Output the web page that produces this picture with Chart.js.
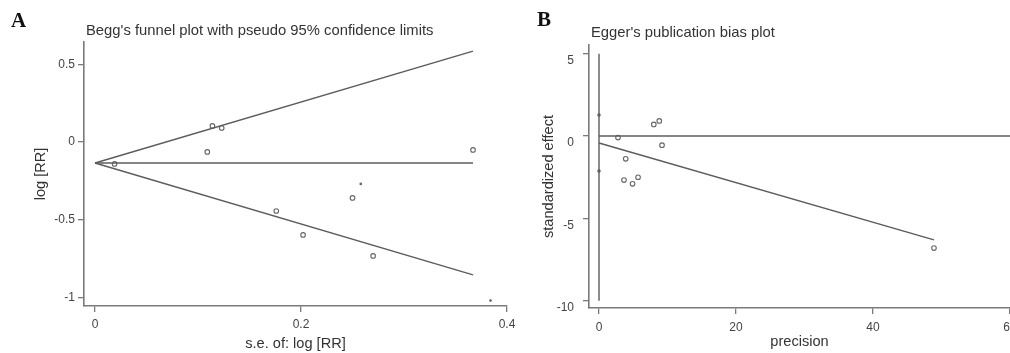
<!DOCTYPE html>
<html lang="en">
<head>
    <meta charset="UTF-8">
    <script src="https://cdn.jsdelivr.net/npm/chart.js"></script>
    <title>Begg's and Egger's plots</title>
    <style>
        html, body { margin: 0; padding: 0; overflow: hidden; background: #fff; }
        #wrap { position: relative; width: 1010px; height: 353px; overflow: hidden; font-family: "Liberation Sans", Arial, sans-serif; }
        canvas { position: absolute; top: 0; }
        #chartA { left: 0; }
        #chartB { left: 510px; }
        .panel { position: absolute; font-family: "Liberation Serif", "Times New Roman", serif; font-weight: bold; font-size: 21px; line-height: 21px; color: #111; }
        .title { position: absolute; font-size: 14.8px; line-height: 17px; color: #333; white-space: nowrap; }
    </style>
</head>
<body>
<div id="wrap">
    <canvas id="chartA" width="540" height="353"></canvas>
    <canvas id="chartB" width="540" height="353"></canvas>
    <div class="panel" style="left:11px; top:10px;">A</div>
    <div class="title" style="left:86px; top:22px;">Begg's funnel plot with pseudo 95% confidence limits</div>
    <div class="panel" style="left:537px; top:9px;">B</div>
    <div class="title" style="left:591px; top:24px;">Egger's publication bias plot</div>
</div>

<script>
    // Panel A: Begg's funnel plot
    const seA = [0.019, 0.109, 0.114, 0.123, 0.176, 0.202, 0.250, 0.270, 0.367];
    const logRR = [-0.141, -0.064, 0.103, 0.090, -0.444, -0.598, -0.360, -0.733, -0.051];
    const seFaint = [0.258, 0.384];
    const logRRFaint = [-0.27, -1.02];
    const pooledSe = [0, 0.367];
    const pooledEst = [-0.135, -0.135];
    const upperLimit = [-0.135, 0.584];
    const lowerLimit = [-0.135, -0.855];
    const ticksAx = [0, 0.2, 0.4];
    const ticksAy = [-1, -0.5, 0, 0.5];

    // Panel B: Egger's publication bias plot
    const precision = [2.77, 8.0, 8.8, 9.2, 3.9, 3.65, 5.7, 4.9, 48.9];
    const stdEffect = [-0.09, 0.71, 0.92, -0.55, -1.38, -2.67, -2.50, -2.9, -6.8];
    const precisionZero = [0, 0];
    const stdEffectZero = [1.28, -2.12];
    const regPrecision = [0, 48.9];
    const regEffect = [-0.42, -6.3];
    const refVertX = [0, 0];
    const refVertY = [5, -10];
    const refHorizX = [0, 60];
    const refHorizY = [0, 0];
    const ticksBx = [0, 20, 40, 60];
    const ticksBy = [-10, -5, 0, 5];

    const zip = (xs, ys) => xs.map((x, i) => ({ x: x, y: ys[i] }));

    const axisColor = '#7a7a7a';
    const lineColor = '#5c5c5c';
    const textColor = '#444';

    function lineSet(xs, ys) {
        return {
            data: zip(xs, ys),
            showLine: true,
            borderColor: lineColor,
            borderWidth: 1.4,
            pointRadius: 0,
            fill: false
        };
    }
    function pointSet(xs, ys, r) {
        return {
            data: zip(xs, ys),
            showLine: false,
            pointRadius: r,
            pointBorderWidth: 1.1,
            borderColor: '#666',
            backgroundColor: r < 1.5 ? '#666' : 'rgba(255,255,255,0)',
            pointBorderColor: '#666'
        };
    }
    function axis(opts) {
        return {
            type: 'linear',
            min: opts.min,
            max: opts.max,
            afterBuildTicks: s => { s.ticks = opts.ticks.map(v => ({ value: v })); },
            afterFit: opts.fit,
            ticks: {
                color: textColor,
                font: { family: 'Liberation Sans, Arial, sans-serif', size: 12 },
                padding: opts.pad,
                labelOffset: opts.labelOffset || 0,
                maxRotation: 0,
                autoSkip: false,
                callback: v => String(v)
            },
            grid: { drawOnChartArea: false, drawTicks: true, tickLength: 6, color: axisColor, lineWidth: 1.3 },
            border: { display: true, color: axisColor, width: 1.6 },
            title: {
                display: true,
                text: opts.title,
                color: '#333',
                font: { family: 'Liberation Sans, Arial, sans-serif', size: 14.6 },
                padding: opts.titlePad
            }
        };
    }
    const baseOptions = {
        responsive: false,
        animation: false,
        plugins: { legend: { display: false }, tooltip: { enabled: false } }
    };

    new Chart(document.getElementById('chartA'), {
        type: 'scatter',
        data: {
            datasets: [
                lineSet(pooledSe, upperLimit),
                lineSet(pooledSe, lowerLimit),
                lineSet(pooledSe, pooledEst),
                pointSet(seA, logRR, 2.3),
                pointSet(seFaint, logRRFaint, 0.8)
            ]
        },
        options: Object.assign({}, baseOptions, {
            layout: { padding: { left: 0, top: 42, right: 33, bottom: 0 } },
            scales: {
                x: axis({ min: -0.0107, max: 0.4, ticks: ticksAx, pad: 5, title: 's.e. of: log [RR]',
                    titlePad: { top: 0, bottom: 0 }, fit: s => { s.height = 47; } }),
                y: axis({ min: -1.055, max: 0.643, ticks: ticksAy, pad: 3, title: 'log [RR]',
                    titlePad: { top: 32, bottom: 0 }, fit: s => { s.width = 84; } })
            }
        })
    });

    new Chart(document.getElementById('chartB'), {
        type: 'scatter',
        data: {
            datasets: [
                lineSet(refVertX, refVertY),
                lineSet(refHorizX, refHorizY),
                lineSet(regPrecision, regEffect),
                pointSet(precision, stdEffect, 2.3),
                pointSet(precisionZero, stdEffectZero, 1.2)
            ]
        },
        options: Object.assign({}, baseOptions, {
            layout: { padding: { left: 0, top: 45, right: 40, bottom: 0 } },
            scales: {
                x: axis({ min: -1.46, max: 60, ticks: ticksBx, pad: 6, title: 'precision',
                    titlePad: { top: 0, bottom: 2 }, fit: s => { s.height = 45; } }),
                y: axis({ min: -10.44, max: 5.53, ticks: ticksBy, pad: 9, labelOffset: 7, title: 'standardized effect',
                    titlePad: { top: 30, bottom: 0 }, fit: s => { s.width = 79; } })
            }
        })
    });
</script>
</body>
</html>
